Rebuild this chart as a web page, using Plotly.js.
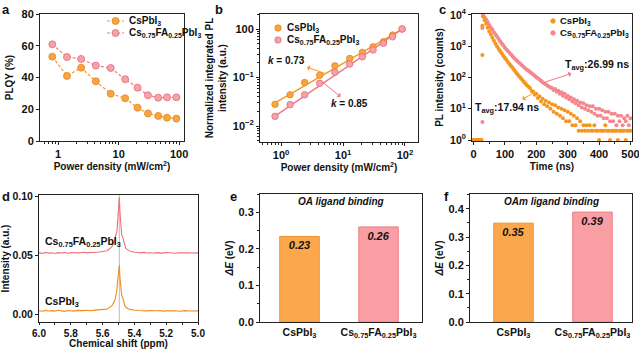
<!DOCTYPE html>
<html><head><meta charset="utf-8">
<script src="https://cdn.plot.ly/plotly-3.0.1.min.js"></script>
<style>html,body{margin:0;padding:0;background:#fff}#chart{width:639px;height:349px}</style>
</head><body><div id="chart"></div>
<script>
// ---------- data ----------
const nameCs = 'CsPbI<sub>3</sub>';
const nameCsFA = 'Cs<sub>0.75</sub>FA<sub>0.25</sub>PbI<sub>3</sub>';
// (a) PLQY vs power density
const powerDensity = [0.8, 1.4, 2.4, 4.2, 7.4, 12.8, 20.5, 30.5, 45, 63, 90];
const plqyCs   = [53.1, 41.0, 46.2, 37.6, 29.8, 26.9, 21.0, 17.4, 15.8, 14.7, 14.1];
const plqyCsFA = [60.9, 52.9, 51.7, 47.5, 46.0, 38.9, 33.6, 28.8, 27.3, 27.5, 27.5];
// (b) normalized integrated PL
const plCs   = [0.028, 0.044, 0.079, 0.111, 0.174, 0.247, 0.33, 0.43, 0.547, 0.75, 1.0];
const plCsFA = [0.0158, 0.0276, 0.044, 0.076, 0.129, 0.19, 0.267, 0.37, 0.51, 0.69, 1.0];
const fitPower = [0.8, 90];
const fitCs   = [0.030, 1.0];
const fitCsFA = [0.016, 1.0];
// (c) TRPL decay
const preTime = [0, 5, 10, 15, 20, 25, 28, 28];
const preCs   = [1, 1, 1, 1, 1, 1, 520, 4500];
const preCsFA = [1, 1, 1, 1, 1, 1, 3.8, 3800];
const decayTime = [30,35,40,45,50,55,60,65,70,75,80,85,90,95,100,105,110,115,120,125,130,135,140,145,150,155,160,165,170,175,
  180,185,190,195,200,205,210,215,220,225,230,235,240,245,250,255,260,265,270,275,280,285,290,295,300,305,310,315,320,325,
  330,335,340,345,350,355,360,365,370,375,380,385,390,395,400,405,410,415,420,425,430,435,440,445,450,455,460,465,470,475,
  480,485,490,495,500];
const decayCs = [8900,6800,5200,3900,2950,2350,1850,1500,1200,980,820,690,580,490,420,360,305,265,230,200,172,148,128,110,96,84,73,64,57,51,
  46,37,36,28,30,22,25,17,21,14,18,12,16,10,14,8,13,7,11,6,10,5,9,4,8,4,7,3,6,3,
  5,2,4,2,3,2,3,2,3,2,2,3,2,2,1,2,2,2,3,2,2,1,2,2,2,2,1,2,2,2,
  2,1,2,2,2];
const decayCsFA = [10000,8500,7200,5900,4800,4000,3400,2800,2350,2000,1700,1450,1230,1050,900,790,690,605,530,470,415,370,330,295,270,240,215,195,178,165,
  150,136,124,113,102,95,86,79,71,66,61,56,52,48,46,40,43,35,38,30,34,26,30,23,26,20,23,17,20,15,
  18,13,16,11,15,10,13,9,12,8,12,7,10,6,10,6,9,5,8,5,8,4,7,4,7,3,6,4,6,3,
  5,4,6,3,5];
// (d) 1H NMR
const nmrShift = [6.00,5.98,5.96,5.94,5.92,5.90,5.88,5.86,5.84,5.82,5.80,5.78,5.76,5.74,5.72,5.70,5.68,5.66,5.64,5.62,5.60,
  5.595,5.59,5.585,5.58,5.575,5.57,5.565,5.56,5.555,5.55,5.545,5.54,5.535,5.53,5.525,5.52,5.515,5.51,5.505,5.50,
  5.495,5.49,5.485,5.48,5.475,5.47,5.465,5.46,5.455,5.45,5.445,5.44,5.435,5.43,5.425,5.42,5.415,5.41,5.405,
  5.40,5.38,5.36,5.34,5.32,5.30,5.28,5.26,5.24,5.22,5.20,5.18,5.16,5.14,5.12,5.10,5.08,5.06,5.04,5.02,5.00];
const nmrCs = [0.0030,0.0026,0.0033,0.0028,0.0031,0.0027,0.0034,0.0029,0.0025,0.0032,0.0030,0.0027,0.0033,0.0029,0.0031,0.0034,0.0030,0.0033,0.0036,0.0035,0.0038,
  0.0037,0.0040,0.0038,0.0042,0.0044,0.0047,0.0050,0.0054,0.0058,0.0063,0.0069,0.0076,0.0085,0.0097,0.0112,0.0135,0.0165,0.0210,0.0290,0.0370,
  0.0415,0.0300,0.0185,0.0160,0.0150,0.0120,0.0090,0.0072,0.0062,0.0055,0.0050,0.0047,0.0044,0.0042,0.0040,0.0039,0.0037,0.0036,0.0035,
  0.0034,0.0032,0.0030,0.0033,0.0029,0.0031,0.0028,0.0030,0.0032,0.0027,0.0029,0.0031,0.0028,0.0030,0.0026,0.0029,0.0031,0.0028,0.0030,0.0027,0.0029];
const nmrCsFA = [0.0520,0.0516,0.0523,0.0518,0.0521,0.0515,0.0522,0.0519,0.0524,0.0517,0.0520,0.0523,0.0518,0.0521,0.0525,0.0520,0.0524,0.0522,0.0526,0.0528,0.0530,
  0.0531,0.0533,0.0532,0.0536,0.0538,0.0541,0.0545,0.0549,0.0554,0.0560,0.0567,0.0576,0.0588,0.0604,0.0625,0.0655,0.0680,0.0700,0.0790,0.0920,
  0.0990,0.0850,0.0700,0.0670,0.0660,0.0630,0.0595,0.0575,0.0562,0.0554,0.0548,0.0543,0.0540,0.0537,0.0534,0.0532,0.0530,0.0529,0.0527,
  0.0526,0.0523,0.0520,0.0524,0.0519,0.0521,0.0517,0.0522,0.0520,0.0518,0.0523,0.0519,0.0521,0.0517,0.0520,0.0522,0.0518,0.0521,0.0519,0.0522,0.0520];
const peakShift = 5.495;
// (e), (f) binding energies
const barCategories = [nameCs, nameCsFA];
const oaEnergy  = [0.234, 0.260];
const oaLabels  = ['0.23', '0.26'];
const oamEnergy = [0.349, 0.388];
const oamLabels = ['0.35', '0.39'];

// ---------- styles ----------
const F = 'Liberation Sans, Arial, sans-serif';
const W = 639, H = 349;
const OR = '#F39A2E', ORF = '#F7A544', PK = '#EE7A84', PKF = '#F5A3AA';
const BAR_OR = '#FBA84D', BAR_OR_L = '#F0902F', BAR_PK = '#F99FA4', BAR_PK_L = '#EE7D85';
const px = v => v / W, py = v => 1 - v / H;
const tf = {family: F, size: 11, weight: 'bold', color: '#111'};
const ttl = (text, standoff) => ({text, standoff, font: {family: F, size: 10, weight: 'bold', color: '#111'}});
function logMinor(lo, hi) { const o = []; for (let d = lo; d < hi; d++) for (let m = 2; m <= 9; m++) o.push(m * Math.pow(10, d)); return o; }
function ax(extra) {
  return Object.assign({showline: true, linecolor: '#222', linewidth: 1, mirror: true, ticks: 'outside', ticklen: 3,
    tickwidth: 1, tickcolor: '#222', showgrid: false, zeroline: false, tickfont: tf, automargin: false,
    ticklabeloverflow: 'allow'}, extra);
}

// ---------- traces ----------
const traces = [
  // a
  {x: powerDensity, y: plqyCs, xaxis: 'x', yaxis: 'y', mode: 'lines+markers', name: nameCs,
   line: {color: OR, width: 1.2, dash: '3px,2px'}, marker: {size: 7, color: ORF, line: {color: '#E8841A', width: 0.8}}},
  {x: powerDensity, y: plqyCsFA, xaxis: 'x', yaxis: 'y', mode: 'lines+markers', name: nameCsFA,
   line: {color: PK, width: 1.2, dash: '3px,2px'}, marker: {size: 7, color: PKF, line: {color: '#E46A76', width: 0.8}}},
  // b
  {x: fitPower, y: fitCs, xaxis: 'x2', yaxis: 'y2', mode: 'lines', line: {color: OR, width: 1.5}},
  {x: fitPower, y: fitCsFA, xaxis: 'x2', yaxis: 'y2', mode: 'lines', line: {color: PK, width: 1.5}},
  {x: powerDensity, y: plCs, xaxis: 'x2', yaxis: 'y2', mode: 'markers', name: nameCs,
   marker: {size: 6.5, color: ORF, line: {color: '#E8841A', width: 0.8}}},
  {x: powerDensity, y: plCsFA, xaxis: 'x2', yaxis: 'y2', mode: 'markers', name: nameCsFA,
   marker: {size: 6.5, color: PKF, line: {color: '#E46A76', width: 0.8}}},
  // c
  {x: decayTime, y: decayCsFA, xaxis: 'x3', yaxis: 'y3', mode: 'markers', name: nameCsFA,
   marker: {size: 4, color: '#F3888F', line: {width: 0}}},
  {x: preTime, y: preCsFA, xaxis: 'x3', yaxis: 'y3', mode: 'markers',
   marker: {size: 4, color: '#F3888F', line: {width: 0}}},
  {x: decayTime, y: decayCs, xaxis: 'x3', yaxis: 'y3', mode: 'markers', name: nameCs,
   marker: {size: 4, color: '#F7961F', line: {width: 0}}},
  {x: preTime, y: preCs, xaxis: 'x3', yaxis: 'y3', mode: 'markers',
   marker: {size: 4, color: '#F7961F', line: {width: 0}}},
  // d
  {x: nmrShift, y: nmrCsFA, xaxis: 'x4', yaxis: 'y4', mode: 'lines', name: nameCsFA, line: {color: '#EE6F7A', width: 1.1}},
  {x: nmrShift, y: nmrCs, xaxis: 'x4', yaxis: 'y4', mode: 'lines', name: nameCs, line: {color: '#F08D1C', width: 1.1}},
  // e
  {type: 'bar', x: barCategories, y: oaEnergy, xaxis: 'x5', yaxis: 'y5', width: 0.5, text: oaLabels,
   textposition: 'inside', insidetextanchor: 'end', textangle: 0, constraintext: 'none',
   textfont: {family: F, size: 11, weight: 'bold', style: 'italic', color: '#111'},
   marker: {color: [BAR_OR, BAR_PK], line: {color: [BAR_OR_L, BAR_PK_L], width: 1}}},
  // f
  {type: 'bar', x: barCategories, y: oamEnergy, xaxis: 'x6', yaxis: 'y6', width: 0.5, text: oamLabels,
   textposition: 'inside', insidetextanchor: 'end', textangle: 0, constraintext: 'none',
   textfont: {family: F, size: 11, weight: 'bold', style: 'italic', color: '#111'},
   marker: {color: [BAR_OR, BAR_PK], line: {color: [BAR_OR_L, BAR_PK_L], width: 1}}}
];

// ---------- annotations ----------
const letter = (t, x, y) => ({text: t, xref: 'paper', yref: 'paper', x: px(x), y: py(y), xanchor: 'left', yanchor: 'top',
  showarrow: false, font: {family: F, size: 13, weight: 'bold', color: '#111'}});
const label = (t, x, y, size, extra) => Object.assign({text: t, xref: 'paper', yref: 'paper', x: px(x), y: py(y), xanchor: 'left',
  yanchor: 'middle', showarrow: false, font: {family: F, size: size || 10, weight: 'bold', color: '#111'}}, extra || {});
const annotations = [
  letter('a', 0, 0), letter('b', 213, 0), letter('c', 437, 0), letter('d', 0, 187), letter('e', 228, 187), letter('f', 442, 187),
  label(nameCs, 127, 21), label(nameCsFA, 127, 33),
  label(nameCs, 285, 28), label(nameCsFA, 285, 40),
  label(nameCs, 558, 21, 9.5), label(nameCsFA, 558, 33, 9.5),
  {text: '<i>k</i> = 0.73', xref: 'x2', yref: 'y2', x: Math.log10(5.1), y: Math.log10(0.122), ax: -38, ay: -13,
   showarrow: true, arrowside: 'start', arrowhead: 2, arrowsize: 1, arrowwidth: 1, arrowcolor: OR,
   font: {family: F, size: 10, weight: 'bold', color: '#111'}},
  {text: '<i>k</i> = 0.85', xref: 'x2', yref: 'y2', x: Math.log10(4.8), y: Math.log10(0.078), ax: 26, ay: 21,
   showarrow: true, arrowside: 'start', arrowhead: 2, arrowsize: 1, arrowwidth: 1, arrowcolor: PK,
   font: {family: F, size: 10, weight: 'bold', color: '#111'}},
  {text: 'T<sub>avg</sub>:26.99 ns', xref: 'x3', yref: 'y3', x: 229, y: Math.log10(72), ax: 52, ay: -17,
   showarrow: true, arrowside: 'start', arrowhead: 2, arrowsize: 1, arrowwidth: 1, arrowcolor: PK,
   font: {family: F, size: 10.5, weight: 'bold', color: '#111'}},
  {text: 'T<sub>avg</sub>:17.94 ns', xref: 'x3', yref: 'y3', x: 191, y: Math.log10(32), ax: -26, ay: 15,
   showarrow: true, arrowside: 'start', arrowhead: 2, arrowsize: 1, arrowwidth: 1, arrowcolor: OR,
   font: {family: F, size: 10.5, weight: 'bold', color: '#111'}},
  label(nameCsFA, 43, 242, 10.5), label(nameCs, 43, 302, 10.5),
  {text: '<i>OA ligand binding</i>', xref: 'paper', yref: 'paper', x: px(341), y: py(202), xanchor: 'center', yanchor: 'middle',
   showarrow: false, font: {family: F, size: 10, weight: 'bold', color: '#111'}},
  {text: '<i>OAm ligand binding</i>', xref: 'paper', yref: 'paper', x: px(551), y: py(202), xanchor: 'center', yanchor: 'middle',
   showarrow: false, font: {family: F, size: 10, weight: 'bold', color: '#111'}}
];

// ---------- legend glyphs ----------
const circ = (cx, cy, r, fill, line) => ({type: 'circle', xref: 'paper', yref: 'paper', x0: px(cx - r), x1: px(cx + r),
  y0: py(cy + r), y1: py(cy - r), fillcolor: fill, line: {color: line, width: 0.8}});
const seg = (x0, x1, y, color) => ({type: 'line', xref: 'paper', yref: 'paper', x0: px(x0), x1: px(x1), y0: py(y), y1: py(y),
  line: {color, width: 1.2, dash: '3px,2px'}});
const shapes = [
  seg(107, 124, 21, OR), circ(115.5, 21, 3.5, ORF, '#E8841A'),
  seg(107, 124, 33, PK), circ(115.5, 33, 3.5, PKF, '#E46A76'),
  circ(278, 28, 3.2, ORF, '#E8841A'), circ(278, 40, 3.2, PKF, '#E46A76'),
  circ(553, 21, 2.3, '#F7961F', '#F7961F'), circ(553, 33, 2.3, '#F3888F', '#F3888F'),
  {type: 'line', xref: 'x4', yref: 'y4 domain', x0: peakShift, x1: peakShift, y0: 0, y1: 1, line: {color: '#BBBBBB', width: 1}, layer: 'below'}
];

// ---------- layout ----------
const layout = {
  width: W, height: H, margin: {l: 0, r: 0, t: 0, b: 0}, paper_bgcolor: '#fff', plot_bgcolor: '#fff', showlegend: false,
  font: {family: F, color: '#111'},
  xaxis: ax({domain: [px(40), px(184)], anchor: 'y', type: 'log', range: [-0.30, 2.08], tickmode: 'array',
    tickvals: [1, 10, 100], ticktext: ['1', '10', '100'], minor: {tickvals: logMinor(-1, 3), ticklen: 2, tickcolor: '#222', ticks: 'outside'},
    title: ttl('Power density (mW/cm<sup>2</sup>)', 3)}),
  yaxis: ax({domain: [py(141), py(14)], anchor: 'x', range: [0, 80], dtick: 20, title: ttl('PLQY (%)', 6)}),
  xaxis2: ax({domain: [px(260), px(418)], anchor: 'y2', type: 'log', range: [-0.34, 2.21], tickmode: 'array',
    tickvals: [1, 10, 100], ticktext: ['10<sup>0</sup>', '10<sup>1</sup>', '10<sup>2</sup>'],
    minor: {tickvals: logMinor(-1, 3), ticklen: 2, tickcolor: '#222', ticks: 'outside'},
    title: ttl('Power density (mW/cm<sup>2</sup>)', 3)}),
  yaxis2: ax({domain: [py(142), py(14)], anchor: 'x2', type: 'log', range: [-2.33, 0.31], tickmode: 'array',
    tickvals: [0.01, 0.1, 1], ticktext: ['10<sup>−2</sup>', '10<sup>−1</sup>', '100'],
    minor: {tickvals: logMinor(-3, 1), ticklen: 2, tickcolor: '#222', ticks: 'outside'},
    title: ttl('Normalized integrated PL<br>intensity (a.u.)', 4)}),
  xaxis3: ax({domain: [px(472), px(632)], anchor: 'y3', range: [-5, 505], tickmode: 'array', tickvals: [0, 100, 200, 300, 400, 500],
    minor: {dtick: 50, ticklen: 2, tickcolor: '#222', ticks: 'outside'}, title: ttl('Time (ns)', 3)}),
  yaxis3: ax({domain: [py(141), py(14)], anchor: 'x3', type: 'log', range: [-0.03, 4.03], tickmode: 'array',
    tickvals: [1, 10, 100, 1000, 10000], ticktext: ['10<sup>0</sup>', '10<sup>1</sup>', '10<sup>2</sup>', '10<sup>3</sup>', '10<sup>4</sup>'],
    tickfont: Object.assign({}, tf, {size: 10.5}), title: ttl('PL intensity (counts)', 4)}),
  xaxis4: ax({domain: [px(39), px(198)], anchor: 'y4', range: [6.0, 5.0], dtick: 0.2, tickformat: '.1f', ticklen: 2,
    tickfont: Object.assign({}, tf, {size: 10}),
    minor: {dtick: 0.1, ticklen: 2, tickcolor: '#222', ticks: 'outside'}, title: ttl('Chemical shift (ppm)', 0)}),
  yaxis4: ax({domain: [py(322), py(195)], anchor: 'x4', range: [-0.0065, 0.101], dtick: 0.05, tickformat: '.2f',
    tickfont: Object.assign({}, tf, {size: 10.5}), title: ttl('Intensity (a.u.)', 4)}),
  xaxis5: ax({domain: [px(260), px(422)], anchor: 'y5', type: 'category', range: [-0.5, 1.55], ticks: '', tickfont: Object.assign({}, tf, {size: 10.5})}),
  yaxis5: ax({domain: [py(322), py(194)], anchor: 'x5', range: [0, 0.35], dtick: 0.1, tickformat: '.1f',
    minor: {dtick: 0.05, ticklen: 2, tickcolor: '#222', ticks: 'outside'}, title: ttl('<i>ΔE</i> (eV)', 3)}),
  xaxis6: ax({domain: [px(470), px(632)], anchor: 'y6', type: 'category', range: [-0.55, 1.5], ticks: '', tickfont: Object.assign({}, tf, {size: 10.5})}),
  yaxis6: ax({domain: [py(322), py(194)], anchor: 'x6', range: [0, 0.452], dtick: 0.1, tickformat: '.1f',
    minor: {dtick: 0.05, ticklen: 2, tickcolor: '#222', ticks: 'outside'}, title: ttl('<i>ΔE</i> (eV)', 3)}),
  annotations, shapes
};

Plotly.newPlot('chart', traces, layout, {displayModeBar: false, staticPlot: true});
</script></body></html>
